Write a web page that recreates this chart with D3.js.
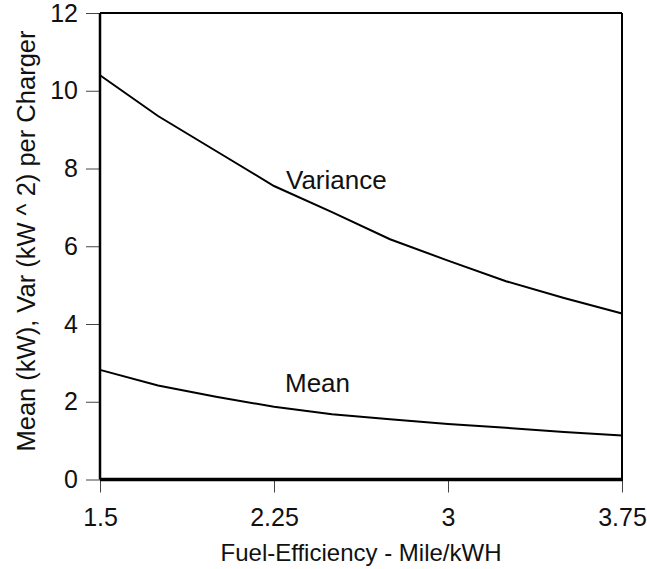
<!DOCTYPE html>
<html>
<head>
<meta charset="utf-8">
<script src="https://cdn.jsdelivr.net/npm/d3@7"></script>
<style>
  html, body { margin: 0; padding: 0; background: #fff; }
  svg { display: block; font-family: "Liberation Sans", Arial, Helvetica, sans-serif; }
</style>
</head>
<body>
<svg id="chart" width="647" height="569"></svg>
<script>
// Fuel efficiency (mile/kWh) sampled along the x axis
const efficiency = [1.5, 1.75, 2.0, 2.25, 2.5, 2.75, 3.0, 3.25, 3.5, 3.75];
// Variance of charging load per charger (kW^2)
const varianceValues = [10.4, 9.35, 8.45, 7.55, 6.88, 6.18, 5.63, 5.1, 4.67, 4.27];
// Mean charging load per charger (kW)
const meanValues = [2.82, 2.42, 2.13, 1.87, 1.68, 1.55, 1.43, 1.33, 1.22, 1.13];

const xTicks = [1.5, 2.25, 3, 3.75];
const yTicks = [0, 2, 4, 6, 8, 10, 12];

const xTitle = "Fuel-Efficiency - Mile/kWH";
const yTitle = "Mean (kW), Var (kW ^ 2) per Charger";

const margin = { left: 100, right: 25, top: 13, bottom: 90 };
const width = 647, height = 569;
const plotRight = width - margin.right;
const plotBottom = height - margin.bottom + 0.5;

const svg = d3.select("#chart");

const x = d3.scaleLinear().domain([1.5, 3.75]).range([margin.left, plotRight]);
const y = d3.scaleLinear().domain([0, 12]).range([plotBottom, margin.top]);

// y axis
const yAxis = svg.append("g")
  .attr("transform", `translate(${margin.left},0)`)
  .call(d3.axisLeft(y).tickValues(yTicks).tickFormat(d3.format("d")).tickSize(14).tickPadding(8));
yAxis.select(".domain").remove();
yAxis.selectAll(".tick line").attr("stroke", "#444").attr("stroke-width", 1);
yAxis.selectAll(".tick text")
  .attr("font-size", 25)
  .attr("fill", "#111")
  .attr("font-family", "Liberation Sans, Arial, sans-serif");

// x axis
const xAxis = svg.append("g")
  .attr("transform", `translate(0,${plotBottom})`)
  .call(d3.axisBottom(x).tickValues(xTicks).tickFormat(d => String(d)).tickSize(13).tickPadding(16));
xAxis.select(".domain").remove();
xAxis.selectAll(".tick line").attr("stroke", "#444").attr("stroke-width", 1);
xAxis.selectAll(".tick text")
  .attr("font-size", 25)
  .attr("fill", "#111")
  .attr("font-family", "Liberation Sans, Arial, sans-serif");

// plot frame
svg.append("line")
  .attr("x1", margin.left).attr("x2", plotRight)
  .attr("y1", margin.top).attr("y2", margin.top)
  .attr("stroke", "#000").attr("stroke-width", 2);
svg.append("line")
  .attr("x1", plotRight).attr("x2", plotRight)
  .attr("y1", margin.top).attr("y2", plotBottom)
  .attr("stroke", "#000").attr("stroke-width", 2);
svg.append("line")
  .attr("x1", margin.left).attr("x2", margin.left)
  .attr("y1", margin.top).attr("y2", plotBottom)
  .attr("stroke", "#000").attr("stroke-width", 2.5);
svg.append("line")
  .attr("x1", margin.left).attr("x2", plotRight + 1)
  .attr("y1", plotBottom).attr("y2", plotBottom)
  .attr("stroke", "#000").attr("stroke-width", 3.5);

// curves
const line = d3.line()
  .x(d => x(d[0]))
  .y(d => y(d[1]));

svg.append("path")
  .datum(d3.zip(efficiency, varianceValues))
  .attr("d", line)
  .attr("fill", "none")
  .attr("stroke", "#000")
  .attr("stroke-width", 2);

svg.append("path")
  .datum(d3.zip(efficiency, meanValues))
  .attr("d", line)
  .attr("fill", "none")
  .attr("stroke", "#000")
  .attr("stroke-width", 2);

// curve labels
svg.append("text")
  .attr("x", 286).attr("y", 189)
  .attr("font-size", 26).attr("fill", "#111")
  .text("Variance");
svg.append("text")
  .attr("x", 285).attr("y", 392)
  .attr("font-size", 26).attr("fill", "#111")
  .text("Mean");

// axis titles
svg.append("text")
  .attr("x", (margin.left + plotRight) / 2)
  .attr("y", 561)
  .attr("text-anchor", "middle")
  .attr("font-size", 24).attr("fill", "#111")
  .text(xTitle);

svg.append("text")
  .attr("transform", "translate(35,241) rotate(-90)")
  .attr("text-anchor", "middle")
  .attr("font-size", 25.5).attr("fill", "#111")
  .text(yTitle);
</script>
</body>
</html>
